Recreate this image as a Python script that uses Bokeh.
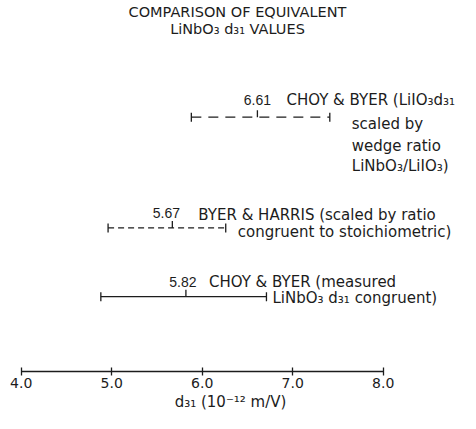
import numpy as np
from bokeh.plotting import figure
from bokeh.models import (ColumnDataSource, Whisker, TeeHead, FixedTicker,
                          PrintfTickFormatter, Label, Range1d)
from bokeh.core.properties import value
from bokeh.embed import file_html
from bokeh.resources import INLINE

# ---------------- data ----------------
title_lines = ["COMPARISON OF EQUIVALENT", "LiNbO₃ d₃₁ VALUES"]
estimates = [6.61, 5.67, 5.82]
lows = [5.88, 4.96, 4.88]
highs = [7.41, 6.26, 6.71]
value_labels = ["6.61", "5.67", "5.82"]
descriptions = [
    ["CHOY & BYER (LiIO₃d₃₁", "scaled by", "wedge ratio", "LiNbO₃/LiIO₃)"],
    ["BYER & HARRIS (scaled by ratio", "congruent to stoichiometric)"],
    ["CHOY & BYER (measured", "LiNbO₃ d₃₁ congruent)"],
]
x_ticks = [4.0, 5.0, 6.0, 7.0, 8.0]
x_label = "d₃₁ (10⁻¹² m/V)"

# ---------------- layout / style ----------------
INK = "#1c1c1c"
FONT = value("DejaVu Sans")
row_y = [255, 144, 75]               # vertical placement of the three rows
dashes = ["10 7", "6 4", "solid"]
val_dx = [0, -6, -3]
val_dy = [-17, -15, -15]
first_dx = [29, 26, 23]
first_dy = [-17, -13, -15]
cont_dx = [22, 12, 6]
cont_dy = [[7, 29, 49], [4], [1]]
title_y = [360, 343]

x_start = 4.0 - 20.7 / 90.5
x_end = x_start + 460 / 90.5

p = figure(width=460, height=413, output_backend="svg", toolbar_location=None,
           x_range=Range1d(x_start, x_end), y_range=Range1d(0, 372),
           x_axis_location="below", y_axis_location=None,
           min_border_left=0, min_border_right=0, min_border_top=0,
           min_border_bottom=0)
p.outline_line_color = None
p.grid.visible = False
p.background_fill_color = "white"
p.border_fill_color = "white"

ax = p.xaxis[0]
ax.ticker = FixedTicker(ticks=x_ticks, minor_ticks=[])
ax.formatter = PrintfTickFormatter(format="%.1f")
ax.bounds = (x_ticks[0], x_ticks[-1])
ax.axis_line_color = INK
ax.axis_line_width = 1.3
ax.major_tick_line_color = INK
ax.major_tick_line_width = 1.3
ax.major_tick_in = 4
ax.major_tick_out = 4
ax.minor_tick_line_color = None
ax.major_label_text_font = "DejaVu Sans"
ax.major_label_text_font_size = "14px"
ax.major_label_text_color = INK
ax.major_label_standoff = 2
ax.axis_label = x_label
ax.axis_label_text_font = "DejaVu Sans"
ax.axis_label_text_font_size = "15px"
ax.axis_label_text_font_style = "normal"
ax.axis_label_text_color = INK
ax.axis_label_standoff = 2

# error bars
for i in range(len(estimates)):
    src = ColumnDataSource(dict(base=[row_y[i]], lower=[lows[i]], upper=[highs[i]]))
    w = Whisker(source=src, base="base", lower="lower", upper="upper",
                dimension="width", line_color=INK, line_width=1.3,
                line_dash=dashes[i],
                lower_head=TeeHead(size=9, line_color=INK, line_width=1.3),
                upper_head=TeeHead(size=9, line_color=INK, line_width=1.3))
    p.add_layout(w)

# value ticks
p.ray(x=estimates, y=row_y, length=7, length_units="screen", angle=np.pi / 2,
      line_color=INK, line_width=1.3)

# value labels
p.text(x=estimates, y=row_y, text=value_labels, x_offset=val_dx, y_offset=val_dy,
       text_font=value("Liberation Sans"), text_font_size="14px", text_color=INK,
       text_align="center", text_baseline="alphabetic")

# descriptions
tx, ty, tt, tdx, tdy = [], [], [], [], []
for i, lines in enumerate(descriptions):
    for j, line in enumerate(lines):
        if j == 0:
            tx.append(estimates[i]); tdx.append(first_dx[i]); tdy.append(first_dy[i])
        else:
            tx.append(highs[i]); tdx.append(cont_dx[i]); tdy.append(cont_dy[i][j - 1])
        ty.append(row_y[i]); tt.append(line)
p.text(x=tx, y=ty, text=tt, x_offset=tdx, y_offset=tdy,
       text_font=FONT, text_font_size="15px", text_color=INK,
       text_align="left", text_baseline="alphabetic")

# title
xc = (x_start + x_end) / 2
for t, yy in zip(title_lines, title_y):
    p.add_layout(Label(x=xc, y=yy, x_offset=7, text=t, text_font="DejaVu Sans",
                       text_font_size="14.5px", text_color=INK,
                       text_align="center", text_baseline="alphabetic"))

open("out.html", "w").write(file_html(p, INLINE))
